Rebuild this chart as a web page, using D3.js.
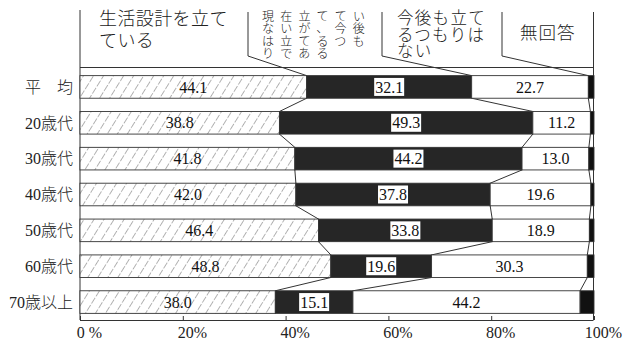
<!DOCTYPE html>
<html>
<head>
<meta charset="utf-8">
<script src="https://cdn.jsdelivr.net/npm/d3@7"></script>
<style>
body { margin: 0; background: #fff; }
</style>
</head>
<body>
<div id="chart"></div>
<script>
var width = 637;
var height = 353;

// data
var groups = ['平　均', '20歳代', '30歳代', '40歳代', '50歳代', '60歳代', '70歳以上'];
var planned = [44.1, 38.8, 41.8, 42.0, 46.4, 48.8, 38.0];     // 生活設計を立てている
var intend = [32.1, 49.3, 44.2, 37.8, 33.8, 19.6, 15.1];      // 今後は立てるつもり
var noIntent = [22.7, 11.2, 13.0, 19.6, 18.9, 30.3, 44.2];    // 今後も立てるつもりはない
var noAnswer = [1.1, 0.7, 1.0, 0.6, 0.9, 1.3, 2.7];           // 無回答
var headerLines = [
    ['生活設計を立て', 'ている'],
    ['現在立ててい', 'ないが、今後', 'は立てるつも', 'りである'],
    ['今後も立て', 'るつもりは', 'ない'],
    ['無回答']
];
var tickValues = [0, 20, 40, 60, 80, 100];
var tickLabels = ['0 %', '20%', '40%', '60%', '80%', '100%'];

var numFont = '"Liberation Serif", "DejaVu Serif", serif';
var jpFont = '"Liberation Serif", "Noto Sans CJK JP", sans-serif';

var svg = d3.select('#chart')
            .append('svg')
            .attr('width', width)
            .attr('height', height);

var x_scale = d3.scaleLinear()
                .domain([0, 100])
                .range([80, 594]);

var y_scale = d3.scaleBand()
                .domain(groups)
                .range([69, 320])
                .paddingInner(0.37)
                .paddingOuter(0.185);

var bw = y_scale.bandwidth();

// hatch pattern for the first segment
var defs = svg.append('defs');
defs.append('pattern')
    .attr('id', 'hatch')
    .attr('patternUnits', 'userSpaceOnUse')
    .attr('width', 8.5)
    .attr('height', 8.5)
    .attr('patternTransform', 'rotate(32)')
    .call(function(p) {
        p.append('rect').attr('width', 8.5).attr('height', 8.5).attr('fill', '#fff');
        p.append('line')
            .attr('x1', 0).attr('y1', 0).attr('x2', 0).attr('y2', 8.5)
            .attr('stroke', '#777').attr('stroke-width', 1.1)
            .attr('stroke-dasharray', '5,1.5');
    });

var series = [planned, intend, noIntent, noAnswer];
var fills = ['url(#hatch)', '#262626', '#fff', '#111'];

var rows = groups.map(function(g, i) {
    var x0 = 0;
    return series.map(function(s, k) {
        var d = { row: g, i: i, k: k, v: s[i], x0: x0, x1: Math.min(100, x0 + s[i]) };
        x0 += s[i];
        return d;
    });
});

// header box
var divX = [248, 382, 502];
var frame = svg.append('g')
               .attr('stroke', '#333')
               .attr('stroke-width', 1)
               .attr('fill', 'none');
frame.append('line').attr('x1', 80).attr('y1', 10).attr('x2', 80).attr('y2', 320);
frame.append('line').attr('x1', 593.5).attr('y1', 12).attr('x2', 593.5).attr('y2', 320);
frame.append('line').attr('x1', 80).attr('y1', 67.5).attr('x2', 593.5).attr('y2', 67.5);
divX.forEach(function(dx, k) {
    var top = y_scale(groups[0]);
    frame.append('polyline')
        .attr('points', [[dx, 12], [dx, 56], [x_scale(rows[0][k].x1), top]].join(' '));
});

// header text: one text per column, a tspan per line
var headerPos = [
    { x: 99, y: 25, size: 18, lh: 22, ls: 0.4 },
    { x: 262, y: 21, size: 12, lh: 12.4, ls: 6.2 },
    { x: 397, y: 24, size: 16.5, lh: 16.5, ls: 1.3 },
    { x: 520, y: 39, size: 17.5, lh: 20, ls: 1 }
];
headerLines.forEach(function(lines, k) {
    var p = headerPos[k];
    svg.append('text')
        .style('font-family', '"Noto Sans CJK JP", sans-serif')
        .style('font-weight', 300)
        .style('font-size', p.size + 'px')
        .style('letter-spacing', p.ls + 'px')
        .attr('fill', '#222')
        .selectAll('tspan')
        .data(lines)
        .enter()
        .append('tspan')
        .attr('x', p.x)
        .attr('y', function(d, j) { return p.y + j * p.lh; })
        .text(function(d) { return d; });
});

// connector lines between rows
var links = [];
for (var i = 0; i < groups.length - 1; i++) {
    for (var k = 0; k < 3; k++) {
        links.push({ a: rows[i][k].x1, b: rows[i + 1][k].x1, ga: groups[i], gb: groups[i + 1] });
    }
}
svg.append('g').selectAll('line.link')
    .data(links)
    .enter()
    .append('line')
    .attr('class', 'link')
    .attr('x1', function(d) { return x_scale(d.a); })
    .attr('y1', function(d) { return y_scale(d.ga) + bw; })
    .attr('x2', function(d) { return x_scale(d.b); })
    .attr('y2', function(d) { return y_scale(d.gb); })
    .attr('stroke', '#333')
    .attr('stroke-width', 1);

// bars
var flat = [].concat.apply([], rows);
svg.append('g').selectAll('rect.seg')
    .data(flat)
    .enter()
    .append('rect')
    .attr('class', 'seg')
    .attr('x', function(d) { return x_scale(d.x0); })
    .attr('y', function(d) { return y_scale(d.row); })
    .attr('width', function(d) { return x_scale(d.x1) - x_scale(d.x0); })
    .attr('height', bw)
    .attr('fill', function(d) { return fills[d.k]; })
    .attr('stroke', '#333')
    .attr('stroke-width', 0.9);

// value labels
var labelData = flat.filter(function(d) { return d.k < 3; });
var labels = svg.append('g').selectAll('g.lab')
    .data(labelData)
    .enter()
    .append('g')
    .attr('class', 'lab')
    .attr('transform', function(d) {
        return 'translate(' + x_scale((d.x0 + d.x1) / 2) + ',' + (y_scale(d.row) + bw / 2) + ')';
    });
labels.filter(function(d) { return d.k === 1; })
    .append('rect')
    .attr('x', -15)
    .attr('y', -9)
    .attr('width', 30)
    .attr('height', 18)
    .attr('fill', '#fff');
labels.append('text')
    .attr('text-anchor', 'middle')
    .attr('dy', '0.35em')
    .style('font-family', numFont)
    .style('font-size', '16px')
    .attr('fill', '#111')
    .text(function(d) { return d.v.toFixed(1); });

// row labels
svg.append('g').selectAll('text.row')
    .data(groups)
    .enter()
    .append('text')
    .attr('class', 'row')
    .attr('x', 73)
    .attr('y', function(d) { return y_scale(d) + bw / 2; })
    .attr('dy', '0.36em')
    .attr('text-anchor', 'end')
    .style('font-family', jpFont)
    .style('font-weight', 300)
    .style('font-size', '16px')
    .attr('fill', '#222')
    .text(function(d) { return d; });

// x axis
var x_axis = d3.axisBottom(x_scale)
               .tickValues(tickValues)
               .tickSizeInner(-4)
               .tickSizeOuter(0)
               .tickFormat(function(d, i) { return tickLabels[i]; });

var axisG = svg.append('g')
               .attr('transform', 'translate(0,320)')
               .call(x_axis);
axisG.select('.domain').attr('stroke', '#333').attr('d', 'M80,0.5H593.5');
axisG.selectAll('.tick line').attr('stroke', '#333');
axisG.selectAll('.tick text')
     .attr('y', 18)
     .attr('dy', 0)
     .attr('dx', 9)
     .style('font-family', numFont)
     .style('font-size', '16px')
     .attr('fill', '#222');
</script>
</body>
</html>
